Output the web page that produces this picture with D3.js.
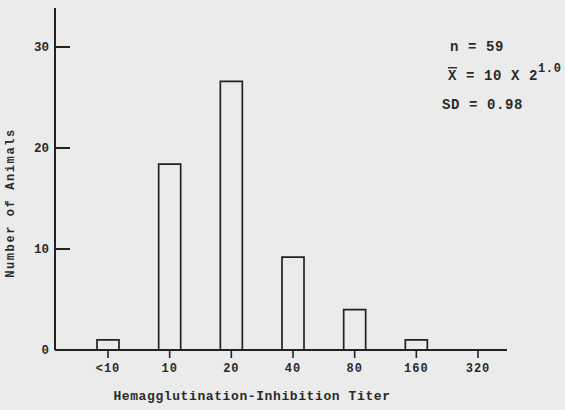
<!DOCTYPE html>
<html>
<head>
<meta charset="utf-8">
<script src="https://cdn.jsdelivr.net/npm/d3@7"></script>
<style>
  body { margin: 0; background: #ebebeb; }
  svg { display: block; }
  text { font-family: "Liberation Mono", "DejaVu Sans Mono", monospace; font-weight: bold; fill: #2a2a2a; }
</style>
</head>
<body>
<div id="chart"></div>
<script>
// titer categories and counts
const titers = ["<10", "10", "20", "40", "80", "160", "320"];
const counts = [1, 18.4, 26.6, 9.2, 4, 1, 0];
const yTicks = [0, 10, 20, 30];

const width = 565, height = 410;

const svg = d3.select("#chart").append("svg")
  .attr("width", width)
  .attr("height", height);

svg.append("rect")
  .attr("width", width).attr("height", height)
  .attr("fill", "#ebebeb");

const x = d3.scalePoint().domain(titers).range([108, 478]);
const y = d3.scaleLinear().domain([0, 30]).range([350, 47]);

const ink = "#222";

// y axis line
svg.append("line")
  .attr("x1", 55).attr("x2", 55)
  .attr("y1", 8).attr("y2", y(0))
  .attr("stroke", ink).attr("stroke-width", 2);

// x axis baseline
svg.append("line")
  .attr("x1", 55).attr("x2", 507)
  .attr("y1", y(0)).attr("y2", y(0))
  .attr("stroke", ink).attr("stroke-width", 2);

// y ticks point inward
svg.selectAll(".ytick")
  .data(yTicks.filter(d => d > 0))
  .join("line")
  .attr("x1", 55).attr("x2", 70)
  .attr("y1", d => y(d)).attr("y2", d => y(d))
  .attr("stroke", ink).attr("stroke-width", 2);

svg.selectAll(".ylab")
  .data(yTicks)
  .join("text")
  .attr("x", 49)
  .attr("y", d => y(d) + 4)
  .attr("text-anchor", "end")
  .attr("font-size", 12.5)
  .text(d => d);

// x ticks below baseline
svg.selectAll(".xtick")
  .data(titers)
  .join("line")
  .attr("x1", d => x(d)).attr("x2", d => x(d))
  .attr("y1", y(0)).attr("y2", y(0) + 8)
  .attr("stroke", ink).attr("stroke-width", 1.6);

svg.selectAll(".xlab")
  .data(titers)
  .join("text")
  .attr("x", d => x(d))
  .attr("y", 372)
  .attr("text-anchor", "middle")
  .attr("font-size", 12)
  .attr("letter-spacing", 1)
  .text(d => d);

// bars, open outlines
const barW = 22;
svg.selectAll(".bar")
  .data(titers.map((t, i) => ({ t, v: counts[i] })).filter(d => d.v > 0))
  .join("path")
  .attr("d", d => {
    const x0 = x(d.t) - barW / 2, x1 = x(d.t) + barW / 2;
    return `M${x0},${y(0)}V${y(d.v)}H${x1}V${y(0)}`;
  })
  .attr("fill", "none")
  .attr("stroke", ink)
  .attr("stroke-width", 1.7);

// axis titles
svg.append("text")
  .attr("x", 252).attr("y", 400)
  .attr("text-anchor", "middle")
  .attr("font-size", 13)
  .attr("letter-spacing", 0.6)
  .text("Hemagglutination-Inhibition Titer");

svg.append("text")
  .attr("transform", "translate(14,203) rotate(-90)")
  .attr("text-anchor", "middle")
  .attr("font-size", 12)
  .attr("letter-spacing", 1.6)
  .text("Number of Animals");

// summary statistics
const stats = svg.append("g").attr("font-size", 14).attr("letter-spacing", 0.6);
stats.append("text").attr("x", 450).attr("y", 51).text("n = 59");
const mean = stats.append("text").attr("x", 448).attr("y", 80);
mean.append("tspan").attr("text-decoration", "overline").text("X");
mean.append("tspan").text(" = 10 X 2");
mean.append("tspan").attr("dy", -8).attr("font-size", 12).text("1.0");
stats.append("text").attr("x", 442).attr("y", 109).text("SD = 0.98");
</script>
</body>
</html>
